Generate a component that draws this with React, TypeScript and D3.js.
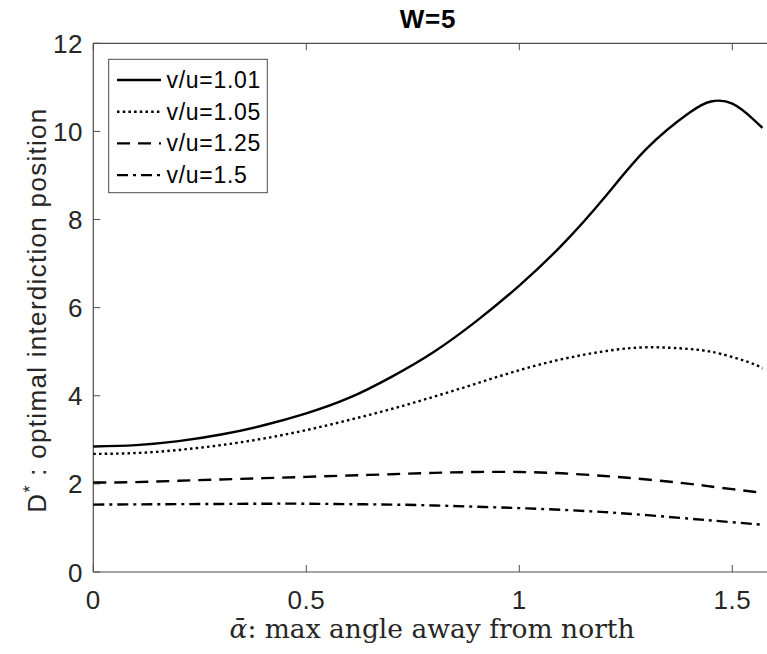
import React, { useEffect, useRef } from 'react';
import * as d3 from 'd3';

// alpha values (rad) where the curves were read
const alphaPts = [0, 0.1, 0.2, 0.3, 0.4, 0.5, 0.6, 0.7, 0.8, 0.9, 1.0, 1.1, 1.2, 1.3, 1.4, 1.45, 1.5, 1.55, Math.PI / 2];

const d101 = [2.85, 2.88, 2.97, 3.12, 3.33, 3.6, 3.95, 4.43, 5.0, 5.7, 6.5, 7.42, 8.5, 9.62, 10.43, 10.68, 10.63, 10.27, 10.08];
const d105 = [2.68, 2.7, 2.77, 2.88, 3.03, 3.22, 3.45, 3.7, 3.98, 4.28, 4.58, 4.83, 5.01, 5.1, 5.06, 5.0, 4.88, 4.72, 4.62];
const d125 = [2.03, 2.04, 2.07, 2.1, 2.13, 2.16, 2.19, 2.22, 2.25, 2.27, 2.27, 2.24, 2.18, 2.1, 2.0, 1.94, 1.88, 1.82, 1.79];
const d150 = [1.53, 1.535, 1.54, 1.545, 1.55, 1.55, 1.54, 1.53, 1.51, 1.48, 1.45, 1.41, 1.36, 1.29, 1.21, 1.17, 1.13, 1.09, 1.07];

const seriesNames = ['v/u=1.01', 'v/u=1.05', 'v/u=1.25', 'v/u=1.5'];
const seriesValues = [d101, d105, d125, d150];
const seriesDash = ['none', '2.5,3.2', '13,8', '11,5,3,5'];

const xTicks = [0, 0.5, 1, 1.5];
const yTicks = [0, 2, 4, 6, 8, 10, 12];

const W = 767;
const H = 654;

export default function App() {
  const ref = useRef<SVGSVGElement>(null);

  useEffect(() => {
    const svg = d3.select(ref.current);
    svg.selectAll('*').remove();

    const left = 93.3, top = 43.3, bottom = 572;
    const x = d3.scaleLinear().domain([0, 1.58]).range([left, left + 1.58 * 426]);
    const y = d3.scaleLinear().domain([0, 12]).range([bottom, top]);
    const axisColor = '#4d4d4d';
    const textColor = '#262626';
    const font = 'Liberation Sans, Arial, Helvetica, sans-serif';

    // axes frame (left, bottom, top)
    const g = svg.append('g');
    g.append('line').attr('x1', left).attr('x2', W).attr('y1', bottom).attr('y2', bottom)
      .attr('stroke', axisColor).attr('stroke-width', 1.2);
    g.append('line').attr('x1', left).attr('x2', W).attr('y1', top).attr('y2', top)
      .attr('stroke', axisColor).attr('stroke-width', 1.2);
    g.append('line').attr('x1', left).attr('x2', left).attr('y1', top).attr('y2', bottom)
      .attr('stroke', axisColor).attr('stroke-width', 1.2);

    // ticks (inward, MATLAB style)
    xTicks.forEach(t => {
      g.append('line').attr('x1', x(t)).attr('x2', x(t)).attr('y1', bottom).attr('y2', bottom - 7)
        .attr('stroke', axisColor);
      g.append('line').attr('x1', x(t)).attr('x2', x(t)).attr('y1', top).attr('y2', top + 7)
        .attr('stroke', axisColor);
      g.append('text').attr('x', x(t)).attr('y', 609).attr('text-anchor', 'middle')
        .attr('font-family', font).attr('font-size', 26).attr('letter-spacing', 0.5)
        .attr('fill', textColor).text(String(t));
    });
    yTicks.forEach(t => {
      g.append('line').attr('x1', left).attr('x2', left + 7).attr('y1', y(t)).attr('y2', y(t))
        .attr('stroke', axisColor);
      g.append('text').attr('x', 83).attr('y', y(t) + 9.5).attr('text-anchor', 'end')
        .attr('font-family', font).attr('font-size', 26).attr('letter-spacing', 0.5)
        .attr('fill', textColor).text(String(t));
    });

    // curves
    const line = d3.line<number>()
      .x((d, i) => x(alphaPts[i]))
      .y(d => y(d))
      .curve(d3.curveNatural);

    seriesValues.forEach((vals, k) => {
      svg.append('path')
        .attr('d', line(vals))
        .attr('fill', 'none')
        .attr('stroke', '#000')
        .attr('stroke-width', 2.4)
        .attr('stroke-dasharray', seriesDash[k]);
    });

    // title
    svg.append('text').attr('x', 428).attr('y', 28).attr('text-anchor', 'middle')
      .attr('font-family', font).attr('font-size', 26).attr('font-weight', 'bold')
      .attr('letter-spacing', 0.8).attr('fill', '#000').text('W=5');

    // y label
    const yl = svg.append('text')
      .attr('transform', 'translate(46,310) rotate(-90)')
      .attr('text-anchor', 'middle')
      .attr('font-family', font).attr('font-size', 26).attr('letter-spacing', 1.3)
      .attr('fill', textColor);
    yl.append('tspan').text('D');
    yl.append('tspan').attr('dy', -10).attr('font-size', 18).text('*');
    yl.append('tspan').attr('dy', 10).text(' : optimal interdiction position');

    // x label
    const xl = svg.append('text').attr('x', 432).attr('y', 638).attr('text-anchor', 'middle')
      .attr('font-family', 'DejaVu Serif, Liberation Serif, serif').attr('font-size', 26.5)
      .attr('fill', textColor);
    xl.append('tspan').attr('font-style', 'italic').text('ᾱ');
    xl.append('tspan').text(': max angle away from north');

    // legend
    const lg = svg.append('g');
    lg.append('rect').attr('x', 108.7).attr('y', 59.3).attr('width', 158.6).attr('height', 133.4)
      .attr('fill', '#fff').attr('stroke', axisColor).attr('stroke-width', 1);
    seriesNames.forEach((name, k) => {
      const cy = 80 + k * 31.7;
      lg.append('line').attr('x1', 117).attr('x2', 161).attr('y1', cy).attr('y2', cy)
        .attr('stroke', '#000').attr('stroke-width', 2.4).attr('stroke-dasharray', seriesDash[k]);
      lg.append('text').attr('x', 166.5).attr('y', cy + 8).attr('font-family', font)
        .attr('font-size', 23).attr('letter-spacing', 0.7).attr('fill', '#000').text(name);
    });
  }, []);

  return (
    <svg ref={ref} width={W} height={H}
      style={{ position: 'absolute', left: 0, top: 0, background: '#fff' }} />
  );
}
